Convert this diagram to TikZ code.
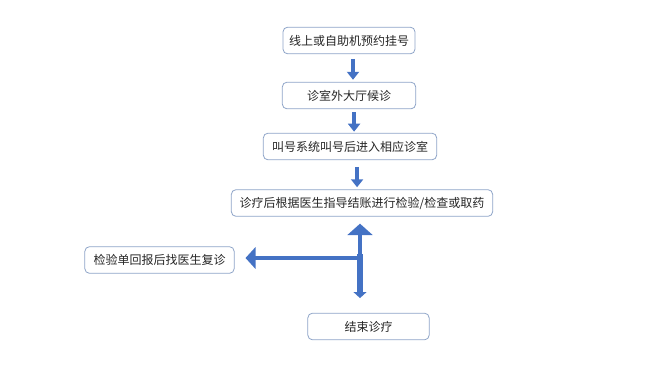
\documentclass[tikz,border=0pt]{standalone}
\usepackage{fontspec}
\usepackage{tikz}
\usetikzlibrary{arrows.meta,positioning,calc}
\newfontfamily\cjk{Noto Sans CJK SC}
\definecolor{boxline}{HTML}{8EA4C8}
\definecolor{flowblue}{HTML}{4472C4}
\definecolor{flowtext}{HTML}{262626}

\begin{document}
\begin{tikzpicture}[x=.75pt,y=-.75pt,>=Latex,
  stepbox/.style={draw=boxline,line width=.6pt,rounded corners=3.5pt,fill=white,text=flowtext,
    font=\cjk\fontsize{9}{11}\selectfont,minimum height=20pt,inner sep=2pt},
  flow/.style={draw=flowblue,line width=3.6pt,-{Triangle[width=9pt,length=6pt]}}]
 \useasboundingbox (0,0) rectangle (655,369);
 \node[stepbox,minimum width=99pt] (s1) at (349,40.5) {线上或自助机预约挂号};
 \node[stepbox,minimum width=100pt] (s2) at (349,95.5) {诊室外大厅候诊};
 \node[stepbox,minimum width=130pt] (s3) at (350,146.5) {叫号系统叫号后进入相应诊室};
 \node[stepbox,minimum width=196pt] (s4) at (362,203) {诊疗后根据医生指导结账进行检验/检查或取药};
 \node[stepbox,minimum width=112pt] (s5) at (159.5,260) {检验单回报后找医生复诊};
 \node[stepbox,minimum width=91pt] (s6) at (368.5,326.5) {结束诊疗};
 \coordinate (fork) at (360,258);
 % main line
 \draw[flow,shorten <=3.5pt,shorten >=1.5pt] ([xshift=3pt]s1.south) -- ([xshift=3pt]s1.south |- s2.north);
 \draw[flow,shorten <=2.3pt,shorten >=.8pt] ([xshift=3.8pt]s2.south) -- ([xshift=3.8pt]s2.south |- s3.north);
 \draw[flow,shorten <=5pt,shorten >=1.5pt] ([xshift=5.3pt]s3.south) -- ([xshift=5.3pt]s3.south |- s4.north);
 % fork after s4
 \draw[flow,-{Triangle[width=18.5pt,length=8.5pt]},shorten >=5.2pt] ([yshift=-2pt]fork) -- (fork |- s4.south);
 \draw[flow,-{Triangle[width=16pt,length=7.5pt]},shorten >=8.2pt] ([xshift=1.8pt]fork) -- (fork -| s5.east);
 \draw[flow,line width=4.6pt,-{Triangle[width=9.5pt,length=4.5pt]},shorten >=11pt] ([yshift=3pt]fork) -- (fork |- s6.north);
\end{tikzpicture}
\end{document}
